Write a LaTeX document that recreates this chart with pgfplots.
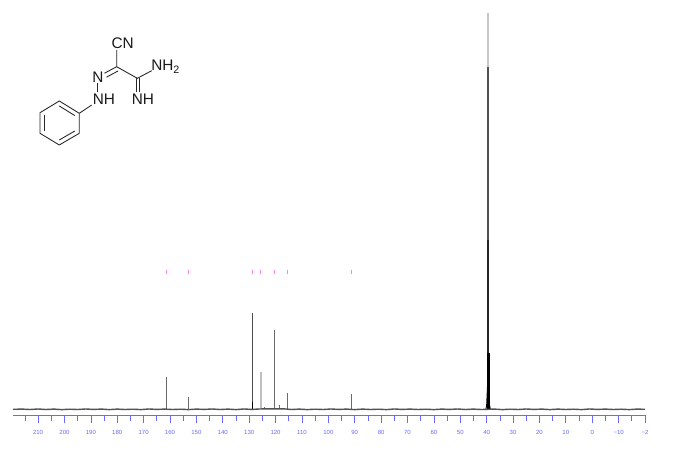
\documentclass[border=0pt]{standalone}
\usepackage{fontspec}
\setmainfont{Liberation Sans}
\usepackage{pgfplots}
\pgfplotsset{compat=1.18}
\definecolor{scaleblue}{RGB}{105,105,255}
\definecolor{pick}{RGB}{250,130,240}
% peak heights are pixels above the baseline of the 696x473 picture
\pgfplotstableread{
ppm h
161.4 32.6
153.0 12.6
120.4 79.3
115.5 16.0
91.2 15.0
118.5 4.0
124.3 2.4
}\peaks
\begin{document}
\begin{tikzpicture}[x=0.75pt,y=-0.75pt]
\path[fill=white] (0,0) rectangle (696,473);
\begin{axis}[
  at={(9.75pt,-311.475pt)}, anchor=south west, scale only axis,
  width=474pt, height=301.7pt,
  x dir=reverse, xmin=-20, xmax=219.5, ymin=-6, ymax=396.3,
  axis x line=bottom, axis y line=none,
  axis line style={scaleblue,line width=0.5pt,-},
  xtick={210,200,...,-20},
  xticklabels={210,200,190,180,170,160,150,140,130,120,110,100,90,80,70,60,50,40,30,20,10,0,−10,−2},
  minor xtick={-15,-5,...,215},
  tick align=outside,
  tick style={scaleblue,line width=0.5pt},
  major tick length=6pt, minor tick length=4pt,
  x tick label style={font=\fontsize{4.5}{5}\selectfont,text=scaleblue,yshift=-1.5pt},
  clip=false,
]
% solvent septet, lightest line first
\addplot[ycomb,no marks,black!22,line width=1.5pt] coordinates {(39.45,396)};
\addplot[ycomb,no marks,black!68,line width=1.5pt] coordinates {(39.45,342)};
\addplot[ycomb,no marks,black!85,line width=1.5pt] coordinates {(39.45,169)};
\addplot[ycomb,no marks,black,line width=2.2pt] coordinates {(39.45,56)};
\addplot[no marks,black,line width=0.7pt] coordinates {(38.6,0) (38.9,4) (39.1,16) (39.3,28) (39.6,28) (39.8,16) (40.0,4) (40.3,0)};
% carbon peaks
\addplot[ycomb,no marks,black!25,line width=1.5pt] coordinates {(125.7,37.6)};
\addplot[ycomb,no marks,black!70,line width=0.9pt] coordinates {(128.8,96)};
\addplot[ycomb,no marks,black,line width=0.8pt] coordinates {(128.8,7)};
\addplot[ycomb,no marks,black!58,line width=0.55pt] table[x=ppm,y=h] {\peaks};
% baseline and noise
\addplot[no marks,black!68,line width=1.05pt] coordinates {
(219.5,0) (216,0.2) (213,-0.2) (210,0.3) (207,-0.2) (204,0.2) (201,-0.3) (198,0.1) (195,-0.2) (192,0.3)
(189,-0.1) (186,0.2) (183,-0.3) (180,0.2) (177,-0.2) (174,0.1) (171,-0.3) (168,0.3) (165,-0.1) (162,0.2)
(159,-0.2) (156,0.1) (153,-0.3) (150,0.2) (147,-0.1) (144,0.3) (141,-0.2) (138,0.2) (135,-0.3) (132,0.3)
(129,-0.1) (126,0.3) (123,0.5) (120,0.4) (117,0.5) (114,-0.2) (111,0.2) (108,-0.3) (105,0.1) (102,-0.2)
(99,0.3) (96,-0.1) (93,0.2) (90,-0.3) (87,0.2) (84,-0.2) (81,0.1) (78,-0.3) (75,0.3) (72,-0.1)
(69,0.2) (66,-0.2) (63,0.1) (60,-0.3) (57,0.2) (54,-0.1) (51,0.3) (48,-0.2) (45,0.2) (42,-0.2)
(37,0.2) (34,-0.3) (31,0.1) (28,-0.2) (25,0.3) (22,-0.1) (19,0.2) (16,-0.3) (13,0.2) (10,-0.2)
(7,0.1) (4,-0.3) (1,0.3) (-2,-0.1) (-5,0.2) (-8,-0.2) (-11,0.1) (-14,-0.3) (-17,0.2) (-20,0)};
% pick marks
\addplot[only marks,mark=|,mark size=1.6pt,mark options={pick,line width=0.7pt}] coordinates {
(161.4,137.3) (153.0,137.3) (128.8,137.3) (125.7,137.3) (120.4,137.3) (115.5,137.3) (91.2,137.3)};
\end{axis}
% structure
\begin{scope}[line width=0.65pt,black!85]
\draw (59.3,101) -- (79.3,113.3) -- (79.3,133.3) -- (59.3,145) -- (40,133.3) -- (40,112.7) -- cycle;
\draw (59.3,106) -- (74.8,115.6) (74.8,131) -- (59.3,140) (44.5,131) -- (44.5,115);
\draw (79.3,113.3) -- (91.7,105);
\draw (97.3,83.3) -- (97.3,91.7);
\draw (104.5,73.2) -- (116.7,66.7) (106.5,77.2) -- (118.2,70.9);
\draw (116.7,50) -- (116.7,66.7) -- (137.3,78.3) -- (151.7,70.7);
\draw (136,78.3) -- (136,91.7) (139.4,78.3) -- (139.4,91.7);
\end{scope}
\begin{scope}[every node/.style={font=\fontsize{11.5}{13}\selectfont,inner sep=0pt,text=black!90}]
\node at (122.7,43.3) {CN};
\node at (98,77.3) {N};
\node at (104,99.3) {NH};
\node at (143,99.3) {NH};
\node[anchor=west] at (151,66.7) {NH\textsubscript{2}};
\end{scope}
\end{tikzpicture}
\end{document}
